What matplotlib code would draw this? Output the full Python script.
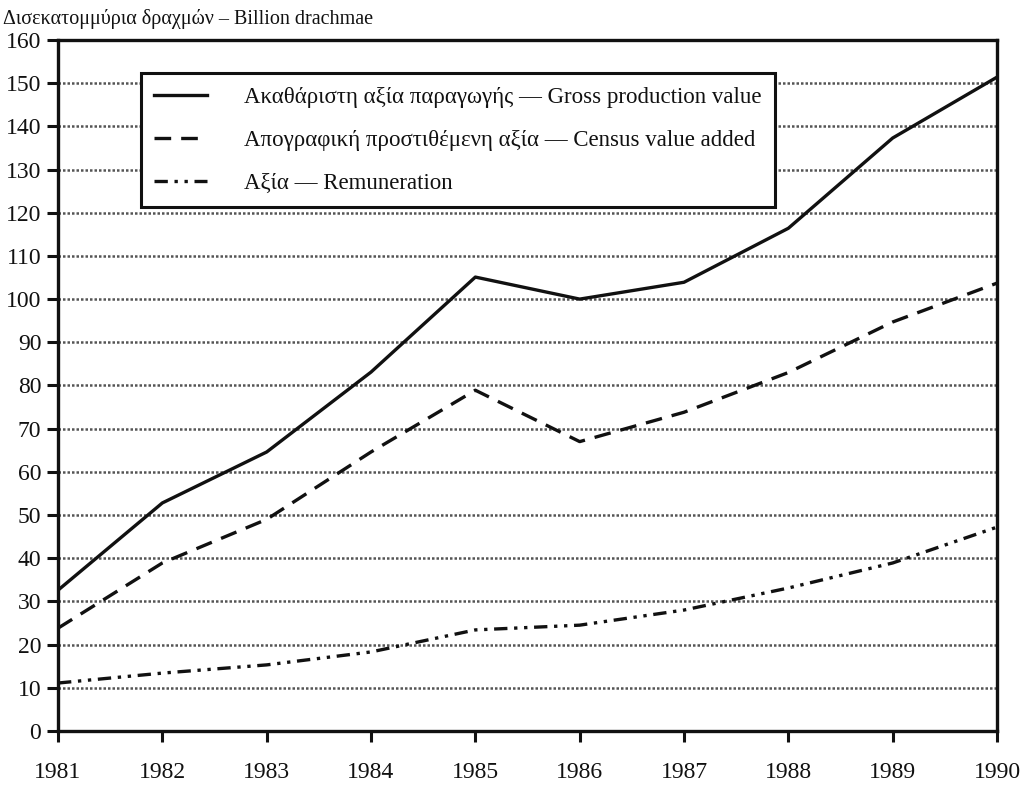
import matplotlib
matplotlib.use('Agg')
import matplotlib.pyplot as plt
from matplotlib import rcParams

rcParams['font.family'] = ['Liberation Serif', 'DejaVu Serif']
rcParams['font.size'] = 17

years = [1981, 1982, 1983, 1984, 1985, 1986, 1987, 1988, 1989, 1990]
gross = [32.6, 52.8, 64.6, 83.1, 105.1, 100.0, 103.9, 116.4, 137.3, 151.4]
census = [23.8, 38.9, 49.0, 64.6, 78.9, 67.0, 73.8, 83.0, 94.7, 103.7]
remuneration = [11.1, 13.4, 15.3, 18.3, 23.4, 24.5, 28.0, 33.1, 38.9, 47.2]
y_ticks = list(range(0, 161, 10))

labels = ['Ακαθάριστη αξία παραγωγής — Gross production value',
          'Απογραφική προστιθέμενη αξία — Census value added',
          'Αξία — Remuneration']

fig = plt.figure(figsize=(10.27, 7.87), dpi=100)
ax = fig.add_axes([0.0565, 0.0712, 0.9143, 0.8780])

for v in y_ticks[1:-1]:
    ax.axhline(v, color='#555555', lw=1.8, ls=(0, (1, 0.8)), zorder=1)

ax.plot(years, gross, color='#111111', lw=2.4, ls='-', label=labels[0], zorder=3)
ax.plot(years, census, color='#111111', lw=2.4, ls=(0, (5, 3)), label=labels[1], zorder=3)
ax.plot(years, remuneration, color='#111111', lw=2.4, ls=(0, (4, 2, 1, 2, 1, 2)),
        label=labels[2], zorder=3)

ax.set_xlim(1981, 1990)
ax.set_ylim(0, 160)
ax.set_xticks(years)
ax.set_yticks(y_ticks)
ax.tick_params(direction='out', length=8, width=2.2, color='#111111', labelcolor='#111111')
ax.tick_params(axis='x', pad=14)
ax.tick_params(axis='y', pad=4)
for s in ax.spines.values():
    s.set_linewidth(2.4)
    s.set_color('#111111')

leg = ax.legend(loc='upper left', bbox_to_anchor=(0.088, 0.952), fontsize=16.5,
                frameon=True, fancybox=False, handlelength=2.3, handletextpad=1.6,
                labelspacing=0.95, borderpad=0.6, borderaxespad=0)
leg.get_frame().set_edgecolor('#111111')
leg.get_frame().set_linewidth(2.2)
leg.get_frame().set_alpha(1)
for t in leg.get_texts():
    t.set_color('#111111')

fig.text(0.003, 0.988, 'Δισεκατομμύρια δραχμών – Billion drachmae', fontsize=14.5,
         ha='left', va='top', color='#111111')

fig.savefig('out.png', dpi=100, facecolor='white')
